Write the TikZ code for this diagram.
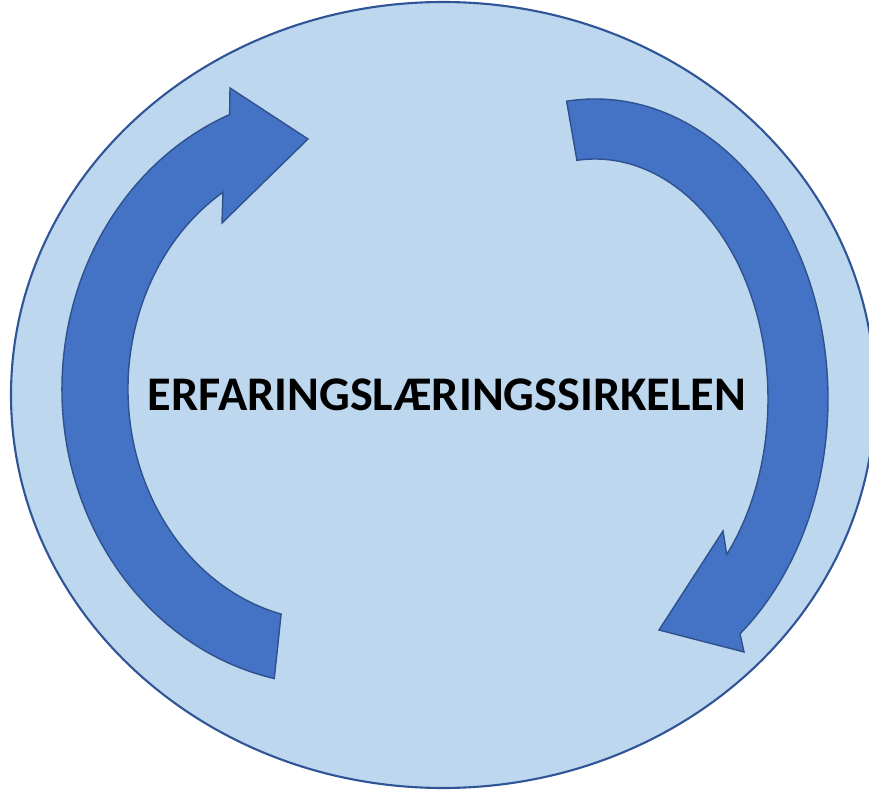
\documentclass[tikz,border=0pt]{standalone}
\usepackage{fontspec}
\setmainfont{Carlito}
\usepackage{xcolor}
\usetikzlibrary{calc}
\definecolor{ringfill}{HTML}{BDD7EE}
\definecolor{ringline}{HTML}{2F5597}
\definecolor{arrowfill}{HTML}{4472C4}
\definecolor{arrowline}{HTML}{2F528F}

\begin{document}
\begin{tikzpicture}[x=0.02cm, y=0.02cm,
    cyclearrow/.style={fill=arrowfill, draw=arrowline, line width=0.8pt, line join=miter}]
    \useasboundingbox (0,0) rectangle (869,799);
    \clip (0,0) rectangle (869,799);
    % background circle
    \filldraw[fill=ringfill, draw=ringline, line width=1.2pt] (443,404) ellipse (432 and 393);
    \coordinate (lc) at (330,410);
    \coordinate (rc) at (595,400);
    % left arrow, pointing up
    \path[cyclearrow] ($(lc)+(258:268 and 296)$)
      arc[start angle=258, end angle=112, x radius=268, y radius=296]
      -- (230,711) -- (308,660) -- (222,576)
      -- ($(lc)+(122:202 and 232)$)
      arc[start angle=122, end angle=256, x radius=202, y radius=232]
      -- cycle;
    % right arrow, pointing down
    \path[cyclearrow] ($(rc)+(97:233 and 300)$)
      arc[start angle=97, end angle=-51.5, x radius=233, y radius=300]
      -- (744,147) -- (659,169) -- (723,268)
      -- ($(rc)+(-40.4:173 and 240)$)
      arc[start angle=-40.4, end angle=96, x radius=173, y radius=240]
      -- cycle;
    \node[font=\fontsize{27.5}{31}\selectfont\bfseries] (title) at (447,404) {ERFARINGSLÆRINGSSIRKELEN};
  \end{tikzpicture}
\end{document}
